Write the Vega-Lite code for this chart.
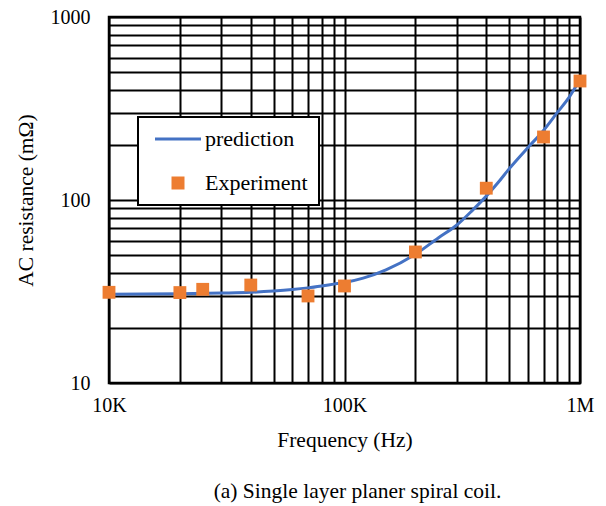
{
  "$schema": "https://vega.github.io/schema/vega-lite/v6.json",
  "width": 471,
  "height": 366,
  "autosize": {"type": "none"},
  "padding": {"left": 109, "top": 17, "right": 26, "bottom": 123},
  "background": "white",
  "title": {
    "text": "(a) Single layer planer spiral coil.",
    "orient": "bottom",
    "anchor": "middle",
    "font": "Liberation Serif",
    "fontSize": 21.5,
    "fontWeight": "normal",
    "color": "black",
    "offset": 30,
    "dx": 13
  },
  "config": {
    "font": "Liberation Serif",
    "view": {"stroke": "black", "strokeWidth": 2.5},
    "axis": {
      "labelFont": "Liberation Serif",
      "titleFont": "Liberation Serif",
      "labelFontSize": 20,
      "titleFontSize": 21.5,
      "titleFontWeight": "normal",
      "labelColor": "black",
      "titleColor": "black",
      "domain": false,
      "ticks": false,
      "grid": true,
      "gridColor": "black",
      "gridOpacity": 1,
      "gridWidth": 2
    },
    "legend": {
      "labelFont": "Liberation Serif",
      "labelFontSize": 22,
      "labelColor": "black"
    }
  },
  "layer": [
    {
      "data": {
        "values": [
          {"f": 10000, "r": 30.5, "series": "prediction"},
          {"f": 20000, "r": 30.7, "series": "prediction"},
          {"f": 30000, "r": 31.0, "series": "prediction"},
          {"f": 40000, "r": 31.3, "series": "prediction"},
          {"f": 50000, "r": 31.8, "series": "prediction"},
          {"f": 60000, "r": 32.4, "series": "prediction"},
          {"f": 70000, "r": 33.1, "series": "prediction"},
          {"f": 80000, "r": 33.9, "series": "prediction"},
          {"f": 90000, "r": 34.7, "series": "prediction"},
          {"f": 100000, "r": 35.4, "series": "prediction"},
          {"f": 120000, "r": 37.4, "series": "prediction"},
          {"f": 150000, "r": 41.5, "series": "prediction"},
          {"f": 200000, "r": 50.5, "series": "prediction"},
          {"f": 250000, "r": 62, "series": "prediction"},
          {"f": 300000, "r": 73, "series": "prediction"},
          {"f": 350000, "r": 88, "series": "prediction"},
          {"f": 400000, "r": 105, "series": "prediction"},
          {"f": 450000, "r": 125, "series": "prediction"},
          {"f": 500000, "r": 148, "series": "prediction"},
          {"f": 600000, "r": 193, "series": "prediction"},
          {"f": 700000, "r": 240, "series": "prediction"},
          {"f": 800000, "r": 300, "series": "prediction"},
          {"f": 900000, "r": 365, "series": "prediction"},
          {"f": 1000000, "r": 455, "series": "prediction"}
        ]
      },
      "mark": {"type": "line", "strokeWidth": 3, "interpolate": "monotone"},
      "encoding": {
        "x": {
          "field": "f",
          "type": "quantitative",
          "scale": {"type": "log", "domain": [10000, 1000000], "nice": false},
          "axis": {
            "title": "Frequency (Hz)",
            "values": [10000, 20000, 30000, 40000, 50000, 60000, 70000, 80000, 90000, 100000, 200000, 300000, 400000, 500000, 600000, 700000, 800000, 900000, 1000000],
            "labelExpr": "datum.value == 10000 ? '10K' : datum.value == 100000 ? '100K' : datum.value == 1000000 ? '1M' : ''",
            "labelPadding": 12,
            "labelFlush": false,
            "labelOverlap": false,
            "titlePadding": 14
          }
        },
        "y": {
          "field": "r",
          "type": "quantitative",
          "scale": {"type": "log", "domain": [10, 1000], "nice": false},
          "axis": {
            "title": "AC resistance (mΩ)",
            "values": [10, 20, 30, 40, 50, 60, 70, 80, 90, 100, 200, 300, 400, 500, 600, 700, 800, 900, 1000],
            "labelExpr": "datum.value == 10 ? '10' : datum.value == 100 ? '100' : datum.value == 1000 ? '1000' : ''",
            "labelPadding": 19,
            "labelFlush": false,
            "labelOverlap": false,
            "titlePadding": 13
          }
        },
        "color": {
          "field": "series",
          "type": "nominal",
          "scale": {"domain": ["prediction", "Experiment"], "range": ["#4472C4", "#ED7D31"]},
          "legend": {
            "title": null,
            "orient": "none",
            "legendX": 29,
            "legendY": 100,
            "fillColor": "white",
            "strokeColor": "black",
            "padding": 11,
            "cornerRadius": 0,
            "labelFont": "Liberation Serif",
            "labelFontSize": 22,
            "labelColor": "black",
            "symbolSize": 169,
            "labelOffset": 34,
            "rowPadding": 22,
            "labelLimit": 300,
            "encoding": {
              "legend": {"strokeWidth": {"value": 2}},
              "symbols": {
                "x": {"value": 29},
                "shape": {"value": {"expr": "datum.value === 'prediction' ? 'stroke' : 'square'"}},
                "size": {"value": {"expr": "datum.value === 'prediction' ? 2116 : 169"}},
                "fill": {"value": {"expr": "datum.value === 'prediction' ? 'transparent' : '#ED7D31'"}},
                "stroke": {"value": {"expr": "datum.value === 'prediction' ? '#4472C4' : '#ED7D31'"}},
                "strokeWidth": {"value": {"expr": "datum.value === 'prediction' ? 3 : 0"}},
                "opacity": {"value": 1}
              }
            }
          }
        }
      }
    },
    {
      "data": {
        "values": [
          {"f": 10000, "r": 31.3, "series": "Experiment"},
          {"f": 20000, "r": 31.2, "series": "Experiment"},
          {"f": 25000, "r": 32.5, "series": "Experiment"},
          {"f": 40000, "r": 34.3, "series": "Experiment"},
          {"f": 70000, "r": 29.9, "series": "Experiment"},
          {"f": 100000, "r": 33.9, "series": "Experiment"},
          {"f": 200000, "r": 52, "series": "Experiment"},
          {"f": 400000, "r": 116, "series": "Experiment"},
          {"f": 700000, "r": 221, "series": "Experiment"},
          {"f": 1000000, "r": 447, "series": "Experiment"}
        ]
      },
      "mark": {"type": "square", "size": 165, "opacity": 1, "filled": true},
      "encoding": {
        "x": {"field": "f", "type": "quantitative"},
        "y": {"field": "r", "type": "quantitative"},
        "color": {
          "field": "series",
          "type": "nominal",
          "legend": {
            "title": null,
            "orient": "none",
            "legendX": 29,
            "legendY": 100,
            "fillColor": "white",
            "strokeColor": "black",
            "padding": 11,
            "cornerRadius": 0,
            "labelFont": "Liberation Serif",
            "labelFontSize": 22,
            "labelColor": "black",
            "symbolSize": 169,
            "labelOffset": 34,
            "rowPadding": 22,
            "labelLimit": 300,
            "encoding": {
              "legend": {"strokeWidth": {"value": 2}},
              "symbols": {
                "x": {"value": 29},
                "shape": {"value": {"expr": "datum.value === 'prediction' ? 'stroke' : 'square'"}},
                "size": {"value": {"expr": "datum.value === 'prediction' ? 2116 : 169"}},
                "fill": {"value": {"expr": "datum.value === 'prediction' ? 'transparent' : '#ED7D31'"}},
                "stroke": {"value": {"expr": "datum.value === 'prediction' ? '#4472C4' : '#ED7D31'"}},
                "strokeWidth": {"value": {"expr": "datum.value === 'prediction' ? 3 : 0"}},
                "opacity": {"value": 1}
              }
            }
          }
        }
      }
    }
  ]
}
